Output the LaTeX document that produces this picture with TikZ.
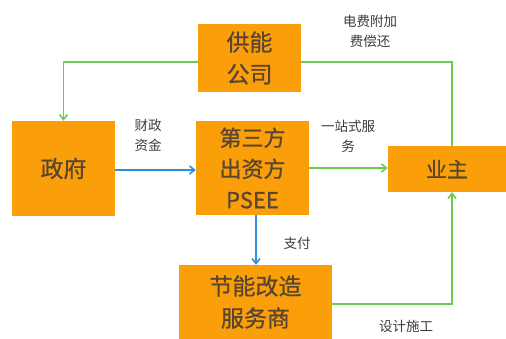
\documentclass[tikz,border=0pt]{standalone}
\usepackage{fontspec}
\setmainfont{Noto Sans CJK SC}
\newfontfamily\medfont[FakeBold=0.8]{Noto Sans CJK SC}
\usetikzlibrary{arrows.meta}
\definecolor{boxor}{HTML}{FA9F0A}
\definecolor{boxtxt}{HTML}{5A4630}
\definecolor{lgreen}{HTML}{6DCC4E}
\definecolor{lblue}{HTML}{2E8FE0}
\definecolor{lbl}{HTML}{3C3C3C}
\begin{document}
\begin{tikzpicture}[x=1pt,y=-1pt,
  box/.style={fill=boxor,draw=none,inner sep=0pt,text=boxtxt,align=center,font=\medfont\fontsize{23}{32}\selectfont},
  lab/.style={text=lbl,align=center,font=\fontsize{13.5}{20}\selectfont,inner sep=0pt},
  garr/.style={draw=lgreen,line width=1.6pt,-{Straight Barb[length=5pt,width=8pt]}},
  gline/.style={draw=lgreen,line width=1.6pt},
  barr/.style={draw=lblue,line width=1.6pt,-{Straight Barb[length=5pt,width=8pt]}}]
\useasboundingbox (0,0) rectangle (506,338);
\fill[white] (0,0) rectangle (506,338);
\node[box,minimum width=103pt,minimum height=68pt] (gn) at (249.5,58) {供能\\公司};
\node[box,minimum width=103pt,minimum height=95pt] (zf) at (63.5,168.5) {政府};
\node[box,minimum width=113pt,minimum height=94pt,font=\medfont\fontsize{22}{31}\selectfont] (ps) at (252.5,168) {第三方\\出资方\\PSEE};
\node[box,minimum width=118pt,minimum height=46pt,font=\medfont\fontsize{21}{28}\selectfont] (yz) at (447,169) {业主};
\node[box,minimum width=153pt,minimum height=74pt] (jn) at (255.5,302) {节能改造\\服务商};
\coordinate (c1) at (63.5,62);
\coordinate (c2) at (452,62);
\coordinate (c3) at (452,304);
\draw[garr] (gn.west |- c1) -- (c1) -- (zf.north);
\draw[gline] (gn.east |- c2) -- (c2) -- (yz.north -| c2);
\draw[barr] (zf.east |- 0,170) -- (ps.west |- 0,170);
\draw[garr] (ps.east |- 0,168) -- (yz.west |- 0,168);
\draw[barr] (ps.south -| 256,0) -- (jn.north -| 256,0);
\draw[garr] (jn.east |- c3) -- (c3) -- (yz.south -| c3);
\node[lab] (l1) at (370,31) {电费附加\\费偿还};
\node[lab] (l2) at (148,135) {财政\\资金};
\node[lab] (l3) at (348,136) {一站式服\\务};
\node[lab] (l4) at (297,243) {支付};
\node[lab] (l5) at (406,326) {设计施工};
\end{tikzpicture}
\end{document}
